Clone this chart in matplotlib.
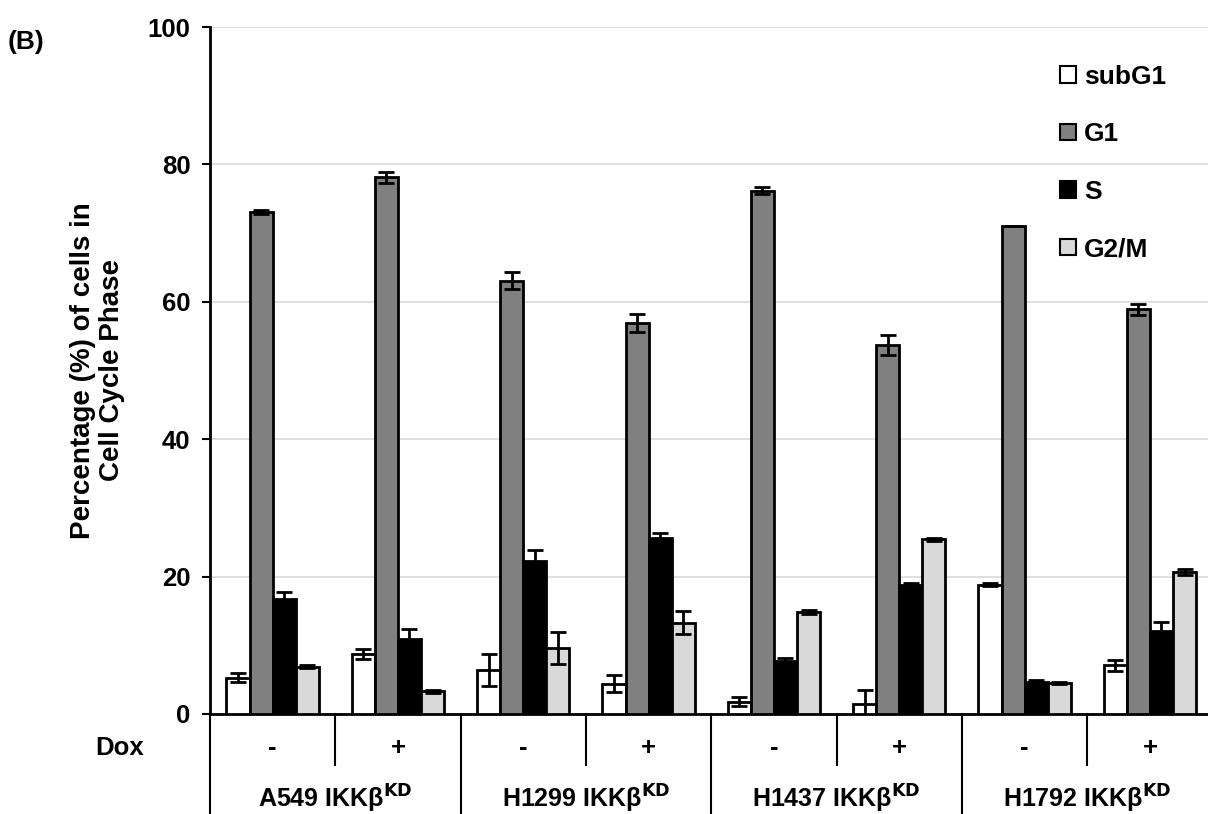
import matplotlib
matplotlib.use("Agg")
import matplotlib.pyplot as plt
import numpy as np

plt.rcParams['font.family'] = ['Liberation Sans', 'DejaVu Sans']
plt.rcParams['font.weight'] = 'bold'

# data
cell_lines = ["A549", "H1299", "H1437", "H1792"]
dox = ["-", "+"]
phases = ["subG1", "G1", "S", "G2/M"]
colors = ["#ffffff", "#808080", "#000000", "#d9d9d9"]

subg1 = [5.3, 8.7, 6.4, 4.4, 1.8, 1.5, 18.8, 7.1]
g1 = [73.1, 78.1, 63.1, 56.9, 76.2, 53.7, 71.0, 58.9]
s_phase = [16.7, 10.9, 22.3, 25.6, 7.7, 18.8, 4.7, 12.1]
g2m = [6.9, 3.3, 9.6, 13.3, 14.9, 25.4, 4.5, 20.7]

subg1_err = [0.7, 0.7, 2.4, 1.2, 0.6, 2.0, 0.2, 0.8]
g1_err = [0.3, 0.8, 1.2, 1.3, 0.5, 1.5, 0.0, 0.8]
s_err = [1.1, 1.5, 1.5, 0.8, 0.5, 0.2, 0.2, 1.3]
g2m_err = [0.2, 0.2, 2.3, 1.7, 0.3, 0.2, 0.2, 0.4]

values = [subg1, g1, s_phase, g2m]
errors = [subg1_err, g1_err, s_err, g2m_err]

fig = plt.figure(figsize=(12.08, 8.14), dpi=100)
ax = fig.add_axes([0.1738, 0.1229, 0.83, 0.8439])

n = len(subg1)
x = np.arange(n) + 0.5
w = 0.184
for i, (vals, errs, c, lab) in enumerate(zip(values, errors, colors, phases)):
    pos = x + (i - 1.5) * w
    ax.bar(pos, vals, width=w, color=c, edgecolor='black', linewidth=2,
           label=lab, zorder=3)
    ax.errorbar(pos, vals, yerr=errs, fmt='none', ecolor='black',
                elinewidth=2, capsize=6, capthick=2, zorder=4)

ax.set_xlim(0, n)
ax.set_ylim(0, 100)
ax.set_yticks(range(0, 101, 20))
ax.yaxis.grid(True, color='#d9d9d9', linewidth=1.2, zorder=0)
ax.tick_params(axis='y', labelsize=18.5, length=6, width=1.5, pad=8)
ax.set_xticks([])
for sp in ['top', 'right']:
    ax.spines[sp].set_visible(False)
ax.spines['left'].set_linewidth(2)
ax.spines['bottom'].set_linewidth(2)

ax.set_ylabel("Percentage (%) of cells in\nCell Cycle Phase", fontsize=20,
              fontweight='bold', labelpad=16, linespacing=1.15)

# table below the axis
trans = ax.get_xaxis_transform()
for k in range(1, n, 2):
    ax.plot([k, k], [0, -0.074], color='black', lw=1.5, transform=trans,
            clip_on=False)
for k in range(0, n + 1, 2):
    ax.plot([k, k], [0, -0.15], color='black', lw=1.5, transform=trans,
            clip_on=False)
for k in range(n):
    ax.text(x[k], -0.05, dox[k % 2], transform=trans, ha='center',
            va='center', fontsize=18.5, fontweight='bold')
for j, name in enumerate(cell_lines):
    ax.text(2 * j + 1, -0.123, name + r" IKKβ$^{\mathbf{KD}}$",
            transform=trans, ha='center', va='center', fontsize=18,
            fontweight='bold')
ax.text(-0.72, -0.05, "Dox", transform=trans, ha='center', va='center',
        fontsize=18.5, fontweight='bold')

fig.text(0.006, 0.948, "(B)", fontsize=19, fontweight='bold', va='center')

leg = ax.legend(loc='upper left', bbox_to_anchor=(0.848, 0.945), frameon=False,
                fontsize=19, handlelength=0.6, handleheight=0.6,
                handletextpad=0.3, labelspacing=1.27, borderpad=0,
                borderaxespad=0)
for t in leg.get_texts():
    t.set_fontweight('bold')
for h in leg.legend_handles:
    h.set_linewidth(1.5)

fig.savefig("out.png", dpi=100)
